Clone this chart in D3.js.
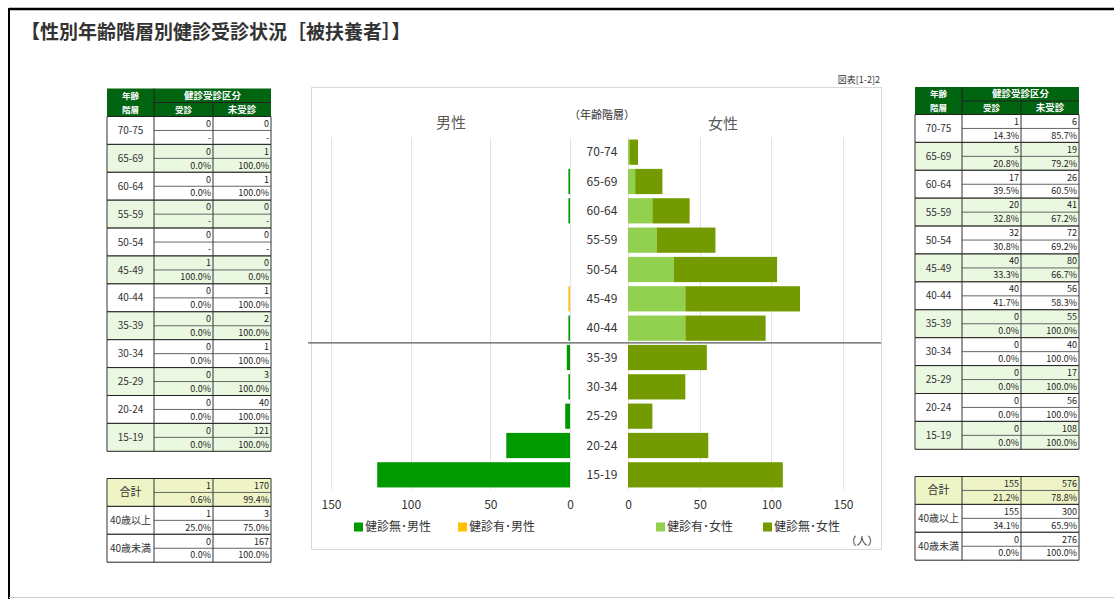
<!DOCTYPE html>
<html><head><meta charset="utf-8">
<script src="https://cdn.jsdelivr.net/npm/d3@7/dist/d3.min.js"></script>
<style>
html,body{margin:0;padding:0;background:#fff;}
svg{display:block;font-family:"Noto Sans CJK JP","Noto Sans",sans-serif;}
</style></head>
<body>
<svg id="c" width="1114" height="599"></svg>
<script>
// ---- data ----
const chartAges = ["70-74","65-69","60-64","55-59","50-54","45-49","40-44","35-39","30-34","25-29","20-24","15-19"];
const tableAges = ["70-75","65-69","60-64","55-59","50-54","45-49","40-44","35-39","30-34","25-29","20-24","15-19"];
const maleExam    = [0,0,0,0,0,1,0,0,0,0,0,0];
const maleNoExam  = [0,1,1,0,0,0,1,2,1,3,40,121];
const femaleExam  = [1,5,17,20,32,40,40,0,0,0,0,0];
const femaleNoExam= [6,19,26,41,72,80,56,55,40,17,56,108];
const summaryLabels = ["合計","40歳以上","40歳未満"];
const maleSummary   = [[1,170],[1,3],[0,167]];
const femaleSummary = [[155,576],[155,300],[0,276]];
const ticks = [0,50,100,150];
const legendItems = [
  {label:"健診無･男性", color:"#009A00"},
  {label:"健診有･男性", color:"#FFC000"},
  {label:"健診有･女性", color:"#92D050"},
  {label:"健診無･女性", color:"#739B00"}
];
const COL = {mNo:"#009A00", mYes:"#FFC000", fYes:"#92D050", fNo:"#739B00"};

const svg = d3.select("#c");

// ---- frame & title ----
svg.append("line").attr("x1",9).attr("x2",1114).attr("y1",9).attr("y2",9).attr("stroke","#000").attr("stroke-width",2.5);
svg.append("line").attr("x1",9).attr("x2",9).attr("y1",8).attr("y2",599).attr("stroke","#000").attr("stroke-width",2);
svg.append("line").attr("x1",9).attr("x2",1114).attr("y1",597.5).attr("y2",597.5).attr("stroke","#ccc").attr("stroke-width",1);
svg.append("text").attr("x",21).attr("y",39).attr("font-size",19).attr("font-weight","bold").attr("fill","#333")
  .text("【性別年齢階層別健診受診状況［被扶養者］】");

// ---- chart panel ----
svg.append("rect").attr("x",311.5).attr("y",87.5).attr("width",570).attr("height",462).attr("fill","#fff").attr("stroke","#d9d9d9");
svg.append("text").attr("x",880).attr("y",83).attr("text-anchor","end").attr("font-size",9).attr("fill","#333").text("図表[1-2]2");

const yTop = 137.5, yBot = 489.5;
const y = d3.scaleBand().domain(chartAges).range([yTop, yBot]).paddingInner(0.14).paddingOuter(0.07);
const xm = d3.scaleLinear().domain([0,150]).range([570,331]);
const xf = d3.scaleLinear().domain([0,150]).range([628,843]);

const g = svg.append("g");
// grid
g.selectAll(".gm").data(ticks).enter().append("line")
  .attr("x1",d=>Math.round(xm(d))+0.5).attr("x2",d=>Math.round(xm(d))+0.5).attr("y1",yTop).attr("y2",yBot)
  .attr("stroke","#e3e3e3");
g.selectAll(".gf").data(ticks).enter().append("line")
  .attr("x1",d=>Math.round(xf(d))+0.5).attr("x2",d=>Math.round(xf(d))+0.5).attr("y1",yTop).attr("y2",yBot)
  .attr("stroke","#e3e3e3");

// axes (tick labels only)
const axM = d3.axisBottom(xm).tickValues(ticks).tickSize(0).tickPadding(0);
const axF = d3.axisBottom(xf).tickValues(ticks).tickSize(0).tickPadding(0);
[ [axM], [axF] ].forEach(([ax])=>{
  const a = svg.append("g").attr("transform","translate(0,500)").call(ax);
  a.select(".domain").remove();
  a.selectAll("text").attr("font-size",12).attr("fill","#333").attr("font-family","'Noto Sans CJK JP',sans-serif").attr("dy","0.71em");
});

// bars
const rows = chartAges.map((a,i)=>({age:a, mY:maleExam[i], mN:maleNoExam[i], fY:femaleExam[i], fN:femaleNoExam[i]}));
const bh = y.bandwidth();
// male: 健診有 next to center, 健診無 outward
g.selectAll(".bmy").data(rows.filter(d=>d.mY>0)).enter().append("rect")
  .attr("x",d=>xm(d.mY)).attr("width",d=>xm(0)-xm(d.mY)).attr("y",d=>y(d.age)).attr("height",bh).attr("fill",COL.mYes);
g.selectAll(".bmn").data(rows.filter(d=>d.mN>0)).enter().append("rect")
  .attr("x",d=>xm(d.mY+d.mN)).attr("width",d=>xm(d.mY)-xm(d.mY+d.mN)).attr("y",d=>y(d.age)).attr("height",bh).attr("fill",COL.mNo);
// female
g.selectAll(".bfy").data(rows.filter(d=>d.fY>0)).enter().append("rect")
  .attr("x",d=>xf(0)).attr("width",d=>xf(d.fY)-xf(0)).attr("y",d=>y(d.age)).attr("height",bh).attr("fill",COL.fYes);
g.selectAll(".bfn").data(rows.filter(d=>d.fN>0)).enter().append("rect")
  .attr("x",d=>xf(d.fY)).attr("width",d=>xf(d.fY+d.fN)-xf(d.fY)).attr("y",d=>y(d.age)).attr("height",bh).attr("fill",COL.fNo);

// category labels
g.selectAll(".cl").data(chartAges).enter().append("text")
  .attr("x",602).attr("y",d=>y(d)+bh/2).attr("dy","0.36em").attr("text-anchor","middle")
  .attr("font-size",12).attr("fill","#333").text(d=>d);

// 40 boundary line
const bY = (y("40-44")+bh + y("35-39"))/2;
svg.append("line").attr("x1",308).attr("x2",881).attr("y1",bY).attr("y2",bY).attr("stroke","#595959").attr("stroke-width",1.3);

// titles
svg.append("text").attr("x",451).attr("y",128).attr("text-anchor","middle").attr("font-size",15).attr("fill","#595959").text("男性");
svg.append("text").attr("x",723).attr("y",129).attr("text-anchor","middle").attr("font-size",15).attr("fill","#595959").text("女性");
svg.append("text").attr("x",602).attr("y",119).attr("text-anchor","middle").attr("font-size",11).attr("fill","#333").text("（年齢階層）");
svg.append("text").attr("x",862).attr("y",545).attr("text-anchor","middle").attr("font-size",11).attr("fill","#333").text("（人）");

// legend
const legX = [354,458,656,763];
const lg = svg.selectAll(".lg").data(legendItems).enter().append("g").attr("transform",(d,i)=>`translate(${legX[i]},527)`);
lg.append("rect").attr("x",0).attr("y",-4.5).attr("width",9).attr("height",9).attr("fill",d=>d.color);
lg.append("text").attr("x",11).attr("y",0).attr("dy","0.36em").attr("font-size",12).attr("fill","#333").text(d=>d.label);

// ---- tables ----
const pct = (v,t)=> t===0 ? "-" : d3.format(".1f")(v/t*100)+"%";
function drawTable(x0, yH, blockStart, blockH, exam, noExam, sumTop, summary){
  const c1 = x0+47, c2 = x0+106, c3 = x0+164;
  const t = svg.append("g");
  const hH = 14;
  // header
  t.append("rect").attr("x",x0).attr("y",yH).attr("width",c3-x0).attr("height",hH*2).attr("fill","#006411");
  t.append("line").attr("x1",c1).attr("x2",c3).attr("y1",yH+hH).attr("y2",yH+hH).attr("stroke","#222");
  t.append("line").attr("x1",c1).attr("x2",c1).attr("y1",yH).attr("y2",yH+2*hH).attr("stroke","#222");
  t.append("line").attr("x1",c2).attr("x2",c2).attr("y1",yH+hH).attr("y2",yH+2*hH).attr("stroke","#222");
  const ht = [["年齢",(x0+c1)/2,yH+hH/2],["階層",(x0+c1)/2,yH+hH*1.5],["健診受診区分",(c1+c3)/2,yH+hH/2],["受診",(c1+c2)/2,yH+hH*1.5],["未受診",(c2+c3)/2,yH+hH*1.5]];
  t.selectAll(".ht").data(ht).enter().append("text").attr("x",d=>d[1]).attr("y",d=>d[2]).attr("dy","0.36em")
    .attr("text-anchor","middle").attr("font-size",d=>d[0].length>2?9.5:8.5).attr("font-weight","bold").attr("fill","#fff").text(d=>d[0]);
  // blocks
  function block(i, yy, label, e, n, bg){
    t.append("rect").attr("x",x0).attr("y",yy).attr("width",c3-x0).attr("height",blockH).attr("fill",bg);
    t.append("line").attr("x1",c1).attr("x2",c3).attr("y1",yy+blockH/2).attr("y2",yy+blockH/2).attr("stroke","#666");
    t.append("line").attr("x1",x0).attr("x2",c3).attr("y1",yy).attr("y2",yy).attr("stroke","#222");
    t.append("line").attr("x1",x0).attr("x2",c3).attr("y1",yy+blockH).attr("y2",yy+blockH).attr("stroke","#222");
    [x0,c1,c2,c3].forEach(xx=>t.append("line").attr("x1",xx).attr("x2",xx).attr("y1",yy).attr("y2",yy+blockH).attr("stroke","#333"));
    t.append("text").attr("x",(x0+c1)/2).attr("y",yy+blockH/2).attr("dy","0.36em").attr("text-anchor","middle")
      .attr("font-size",label.length>4?10:11).attr("fill","#333").text(label);
    const tot = e+n;
    const vals = [[e,c2,yy+blockH*0.25],[n,c3,yy+blockH*0.25],[pct(e,tot),c2,yy+blockH*0.75],[pct(n,tot),c3,yy+blockH*0.75]];
    vals.forEach(v=>t.append("text").attr("x",v[1]-2).attr("y",v[2]).attr("dy","0.36em").attr("text-anchor","end")
      .attr("font-size",9).attr("fill","#222").text(v[0]));
  }
  tableAges.forEach((a,i)=>block(i, blockStart+i*blockH, a, exam[i], noExam[i], i%2===1?"#EBF8E1":"#fff"));
  summary.forEach((s,i)=>block(i, sumTop+i*blockH, summaryLabels[i], s[0], s[1], i===0?"#EEF4C6":"#fff"));
}
drawTable(107, 88.5, 116.5, 27.9, maleExam, maleNoExam, 478.5, maleSummary);
drawTable(915, 87, 114.5, 27.9, femaleExam, femaleNoExam, 476.5, femaleSummary);
</script>
</body></html>
